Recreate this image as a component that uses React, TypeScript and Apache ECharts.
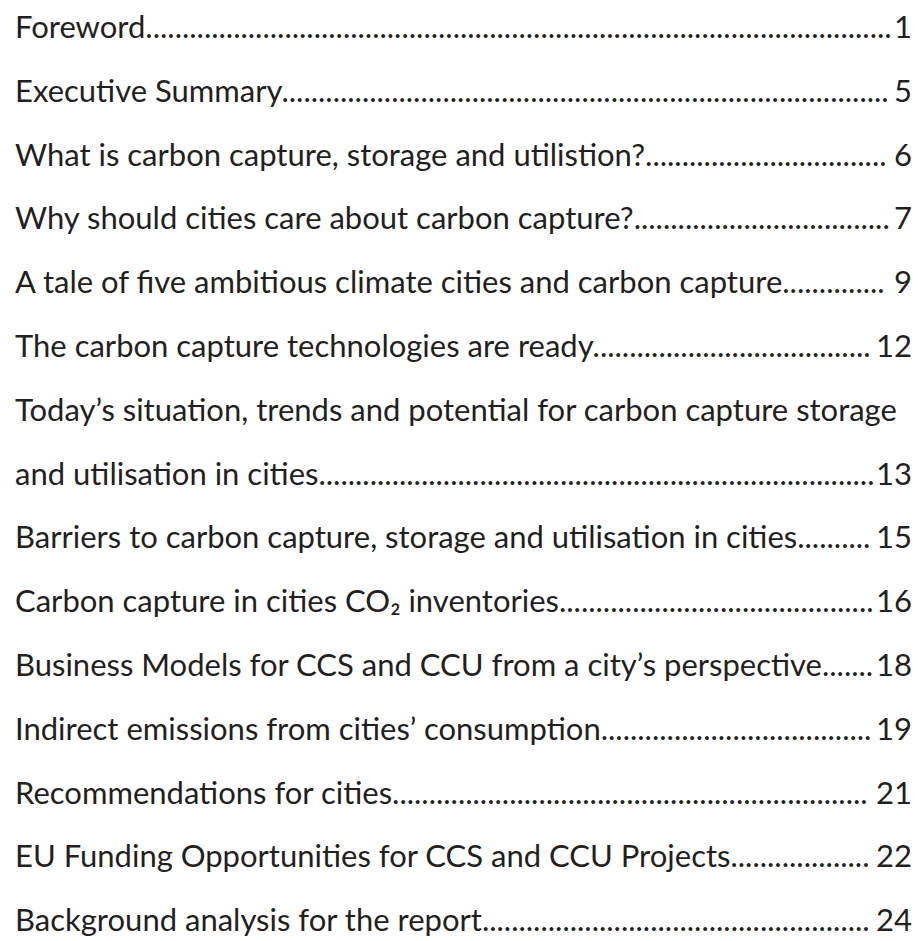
import React, { useEffect, useRef } from "react";
import * as echarts from "echarts";

// Table of contents entries (one entry per printed line)
const TITLES: string[] = [
  "Foreword",
  "Executive Summary",
  "What is carbon capture, storage and utilistion?",
  "Why should cities care about carbon capture?",
  "A tale of five ambitious climate cities and carbon capture",
  "The carbon capture technologies are ready",
  "Today\u2019s situation, trends and potential for carbon capture storage",
  "and utilisation in cities",
  "Barriers to carbon capture, storage and utilisation in cities",
  "Carbon capture in cities CO\u2082 inventories",
  "Business Models for CCS and CCU from a city\u2019s perspective",
  "Indirect emissions from cities\u2019 consumption",
  "Recommendations for cities",
  "EU Funding Opportunities for CCS and CCU Projects",
  "Background analysis for the report",
];

// Page numbers (null = wrapped line without leader/page number)
const PAGES: (number | null)[] = [1, 5, 6, 7, 9, 12, null, 13, 15, 16, 18, 19, 21, 22, 24];

const FONT_FAMILY = "Lato";
const FONT_SIZE = 31;
const TEXT_COLOR = "#231f20";
const LEFT_X = 15;
const RIGHT_X = 912;
const FIRST_BASELINE = 36;
const LINE_STEP = 63.8;

export default function App() {
  const ref = useRef<HTMLDivElement>(null);

  useEffect(() => {
    if (!ref.current) return;
    const chart = echarts.init(ref.current, null, { renderer: "svg" });

    const canvas = document.createElement("canvas");
    const ctx = canvas.getContext("2d")!;
    ctx.font = `${FONT_SIZE}px ${FONT_FAMILY}`;
    const dotW = ctx.measureText(".").width;

    const graphics: any[] = [];
    TITLES.forEach((title, i) => {
      const y = FIRST_BASELINE + i * LINE_STEP - FONT_SIZE * 0.32;
      const page = PAGES[i];
      let text = title;
      if (page !== null) {
        const titleW = ctx.measureText(title).width;
        const numW = ctx.measureText(String(page)).width;
        const avail = RIGHT_X - numW - LEFT_X - titleW - 1;
        const n = Math.max(0, Math.floor(avail / dotW));
        text = title + ".".repeat(n);
        graphics.push({
          type: "text",
          x: RIGHT_X,
          y,
          style: {
            text: String(page),
            fontSize: FONT_SIZE,
            fontFamily: FONT_FAMILY,
            fill: TEXT_COLOR,
            align: "right",
            verticalAlign: "middle",
          },
        });
      }
      graphics.push({
        type: "text",
        x: LEFT_X,
        y,
        style: {
          text,
          fontSize: FONT_SIZE,
          fontFamily: FONT_FAMILY,
          fill: TEXT_COLOR,
          align: "left",
          verticalAlign: "middle",
        },
      });
    });

    chart.setOption({
      animation: false,
      backgroundColor: "#ffffff",
      graphic: graphics,
    });

    return () => chart.dispose();
  }, []);

  return (
    <div
      ref={ref}
      style={{ position: "fixed", left: 0, top: 0, width: 920, height: 941 }}
    />
  );
}
